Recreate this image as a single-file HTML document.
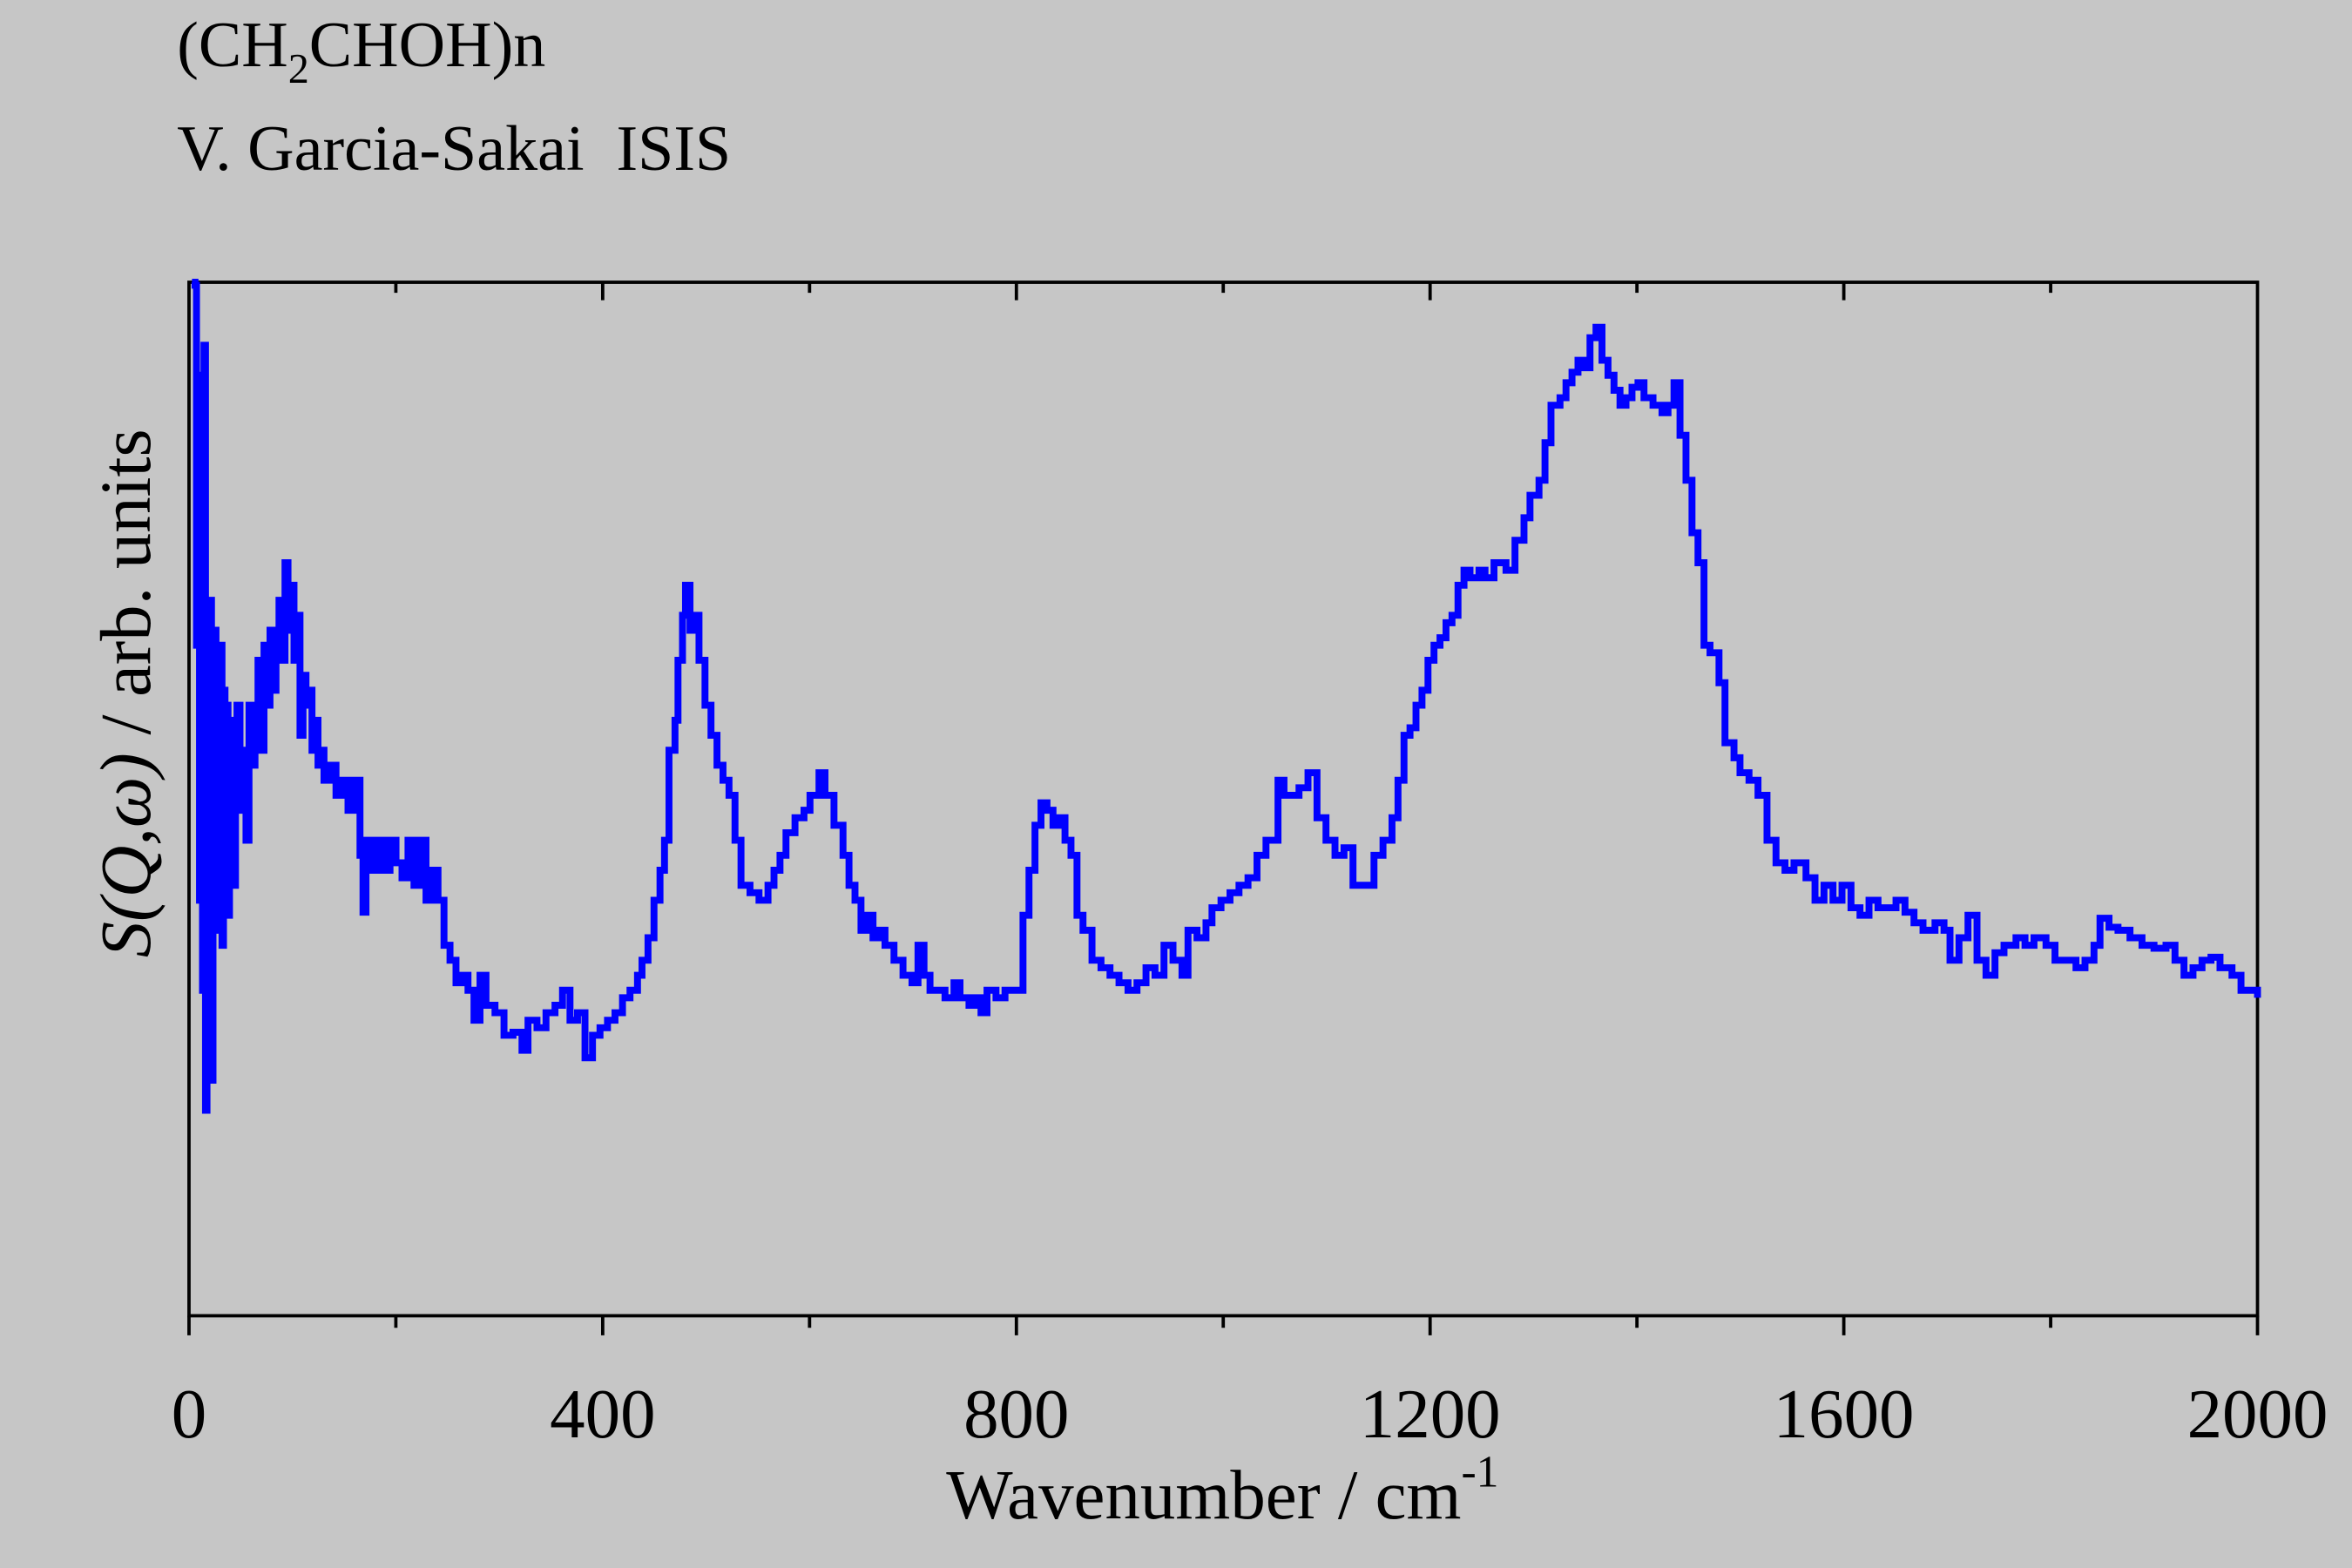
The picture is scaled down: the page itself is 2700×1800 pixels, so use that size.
<!DOCTYPE html>
<html><head><meta charset="utf-8">
<style>
html,body{margin:0;padding:0;background:#c6c6c6;}
svg{display:block;}
text{font-family:"Liberation Serif",serif;fill:#000;}
</style></head>
<body>
<svg id="s" width="2700" height="1800" viewBox="0 0 1568 1045" xmlns="http://www.w3.org/2000/svg">
<rect width="1568" height="1045" fill="#c6c6c6"/>
<text x="118" y="44" font-size="43">(CH<tspan font-size="28" dy="11">2</tspan><tspan dy="-11">CHOH)n</tspan></text>
<text x="118" y="113" font-size="43">V. Garcia-Sakai&#160; ISIS</text>
<g stroke="#000" stroke-width="2.2" fill="none">
<rect x="126" y="188" width="1379" height="689"/>
<path d="M401.8 188v12M677.6 188v12M953.4 188v12M1229.2 188v12
M263.9 877v8M539.7 877v8M815.5 877v8M1091.3 877v8M1367.1 877v8M263.9 188v7M539.7 188v7M815.5 188v7M1091.3 188v7M1367.1 188v7
M126 877v13M401.8 877v13M677.6 877v13M953.4 877v13M1229.2 877v13M1505 877v13"/>
</g>
<g font-size="47" text-anchor="middle">
<text x="126" y="958">0</text><text x="401.8" y="958">400</text><text x="677.6" y="958">800</text>
<text x="953.4" y="958">1200</text><text x="1229.2" y="958">1600</text><text x="1505" y="958">2000</text>
</g>
<text x="815" y="1012" font-size="47" text-anchor="middle">Wavenumber / cm<tspan font-size="30" dy="-21">-1</tspan></text>
<text transform="translate(100,462) rotate(-90)" font-size="48" text-anchor="middle"><tspan font-style="italic">S(Q,ω)</tspan> / arb. units</text>
<path id="p" fill="none" stroke="#0000ff" stroke-width="4.6" stroke-linejoin="miter"/>
</svg>
<script>
var pts=[128,188,130,190,131,430,132,250,133,600,134,300,135,660,136,230,137,740,138,450,139,640,140,400,141,720,142,500,143,420,144,620,145,480,146,600,147,430,148,630,149,460,150,580,151,470,152,610,153,500,154,560,155,480,156,590,157,520,158,470,160,540,162,500,164,560,166,470,168,510,170,480,172,440,174,500,176,430,178,470,180,420,182,460,184,430,186,400,188,440,190,375,192,420,194,390,196,440,198,410,200,490,202,450,204,470,206,460,208,500,210,480,212,510,214,500,216,520,220,510,224,530,228,520,232,540,236,520,240,570,242,608,244,560,248,580,252,560,256,580,260,560,264,575,268,585,272,560,276,590,280,560,284,600,288,580,292,600,296,630,300,640,304,655,308,650,312,660,316,680,320,650,324,670,330,675,336,690,342,688,348,700,352,680,358,685,364,675,370,670,375,660,380,680,385,675,390,705,395,690,400,685,405,680,410,675,415,665,420,660,425,650,428,640,432,625,436,600,440,580,443,560,446,500,450,480,452,440,455,410,457,390,460,420,463,410,466,440,470,470,474,490,478,510,482,520,486,530,490,560,494,590,500,595,506,600,512,590,516,580,520,570,524,555,530,545,536,540,540,530,546,515,550,530,556,550,562,570,566,590,570,600,574,620,578,610,582,625,586,620,590,630,596,640,602,650,608,655,612,630,616,650,620,660,626,660,630,665,636,655,640,665,646,670,650,665,654,675,658,660,664,665,670,660,676,660,682,610,686,580,690,550,694,535,698,540,702,550,706,545,710,560,714,570,718,610,722,620,728,640,734,645,740,650,746,655,752,660,758,655,764,645,770,650,776,630,782,640,788,650,792,620,798,625,804,615,808,605,814,600,820,595,826,590,832,585,838,570,844,560,848,560,852,520,856,530,860,530,866,525,872,515,878,545,884,560,890,570,896,565,902,590,910,590,916,570,922,560,928,545,932,520,936,490,940,485,944,470,948,460,952,440,956,430,960,425,964,415,968,410,972,390,976,380,980,385,986,380,990,385,996,375,1004,380,1010,360,1016,345,1020,330,1026,320,1030,295,1034,270,1040,265,1044,255,1048,248,1052,240,1056,245,1060,225,1064,218,1068,240,1072,250,1076,260,1080,270,1084,265,1088,258,1092,255,1096,265,1102,270,1108,275,1112,270,1116,255,1120,290,1124,320,1128,355,1132,375,1136,430,1140,435,1146,455,1150,495,1156,505,1160,515,1166,520,1172,530,1178,560,1184,575,1190,580,1196,575,1204,585,1210,600,1216,590,1222,600,1228,590,1234,605,1240,610,1246,600,1252,605,1258,605,1264,600,1270,608,1276,615,1282,620,1290,615,1296,620,1300,640,1306,625,1312,610,1318,640,1324,650,1330,635,1336,630,1344,625,1350,630,1356,625,1364,630,1370,640,1378,640,1384,645,1390,640,1396,630,1400,612,1406,618,1412,620,1420,625,1428,630,1436,632,1444,630,1450,640,1456,650,1462,645,1468,640,1474,638,1480,645,1488,650,1494,660,1505,665];
var d="M"+pts[0]+" "+pts[1];
for(var i=2;i<pts.length;i+=2){d+="H"+pts[i]+"V"+pts[i+1];}
document.getElementById("p").setAttribute("d",d);
</script>
</body></html>
